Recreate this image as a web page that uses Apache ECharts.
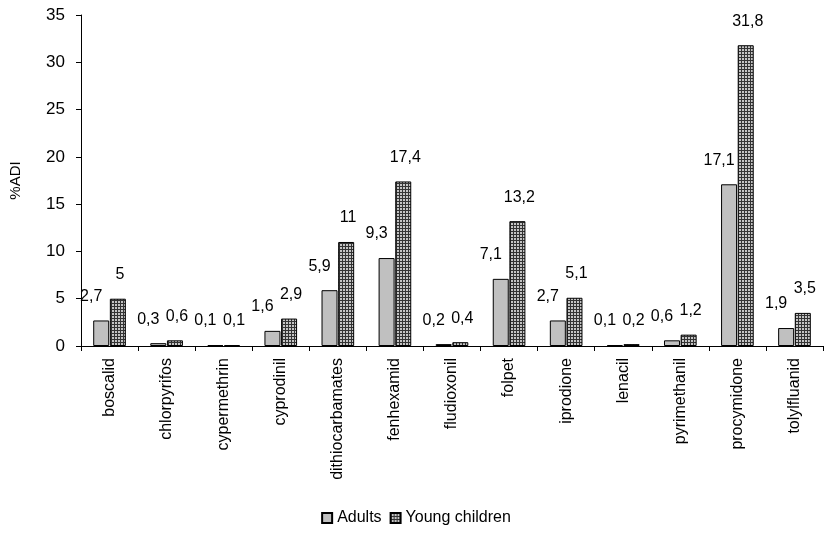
<!DOCTYPE html>
<html>
<head>
<meta charset="utf-8">
<script src="https://cdn.jsdelivr.net/npm/echarts@6/dist/echarts.min.js"></script>
<style>html,body{margin:0;padding:0;background:#fff}#c{width:832px;height:533px}</style>
</head>
<body>
<div id="c"></div>
<script>
const categories = ['boscalid','chlorpyrifos','cypermethrin','cyprodinil','dithiocarbamates','fenhexamid','fludioxonil','folpet','iprodione','lenacil','pyrimethanil','procymidone','tolylfluanid'];
const adults = [2.7,0.3,0.1,1.6,5.9,9.3,0.2,7.1,2.7,0.1,0.6,17.1,1.9];
const youngChildren = [5,0.6,0.1,2.9,11,17.4,0.4,13.2,5.1,0.2,1.2,31.8,3.5];
const yTicks = [0,5,10,15,20,25,30,35];

function makePattern(){
  const c = document.createElement('canvas');
  c.width = 3; c.height = 3;
  const g = c.getContext('2d');
  g.fillStyle = '#c4c4c4'; g.fillRect(0,0,3,3);
  g.fillStyle = '#333333'; g.fillRect(0,0,3,1); g.fillRect(0,0,1,3);
  return c;
}
const pattern = {image: makePattern(), repeat: 'repeat'};
const fmt = p => String(p.value).replace('.', ',');
const font = 'Liberation Sans, Arial, sans-serif';

const chart = echarts.init(document.getElementById('c'));
chart.setOption({
  animation: false,
  textStyle: {fontFamily: font},
  grid: {left: 80, right: 9, top: 15, bottom: 187, containLabel: false},
  legend: {
    bottom: 2, left: 'center', itemWidth: 10, itemHeight: 10, itemGap: 8,
    icon: 'rect',
    textStyle: {fontFamily: font, fontSize: 16, color: '#000'},
    data: ['Adults','Young children']
  },
  xAxis: {
    type: 'category', data: categories,
    axisLine: {lineStyle: {color: '#000', width: 1}},
    axisTick: {show: true, length: 5, alignWithLabel: false, lineStyle: {color: '#000'}},
    axisLabel: {rotate: 90, interval: 0, fontFamily: font, fontSize: 16, color: '#000', margin: 12}
  },
  yAxis: {
    type: 'value', min: yTicks[0], max: yTicks[yTicks.length-1], interval: 5,
    name: '%ADI', nameLocation: 'middle', nameGap: 58, nameRotate: 90,
    nameTextStyle: {fontFamily: font, fontSize: 15, color: '#000'},
    axisLine: {show: true, lineStyle: {color: '#000', width: 1}},
    axisTick: {show: true, length: 5, lineStyle: {color: '#000'}},
    axisLabel: {fontFamily: font, fontSize: 17, color: '#000', margin: 16},
    splitLine: {show: false}
  },
  series: [
    {
      name: 'Adults', type: 'bar', data: adults, barWidth: 16, barGap: '4%',
      itemStyle: {color: '#c0c0c0', borderColor: '#000', borderWidth: 1},
      label: {show: true, position: 'top', distance: 16, offset: [-10, 0], formatter: fmt,
        fontFamily: font, fontSize: 16, color: '#000'}
    },
    {
      name: 'Young children', type: 'bar', data: youngChildren, barWidth: 16,
      itemStyle: {color: pattern, borderColor: '#000', borderWidth: 1},
      label: {show: true, position: 'top', distance: 16, offset: [2, 0], formatter: fmt,
        fontFamily: font, fontSize: 16, color: '#000'}
    }
  ]
});
</script>
</body>
</html>
